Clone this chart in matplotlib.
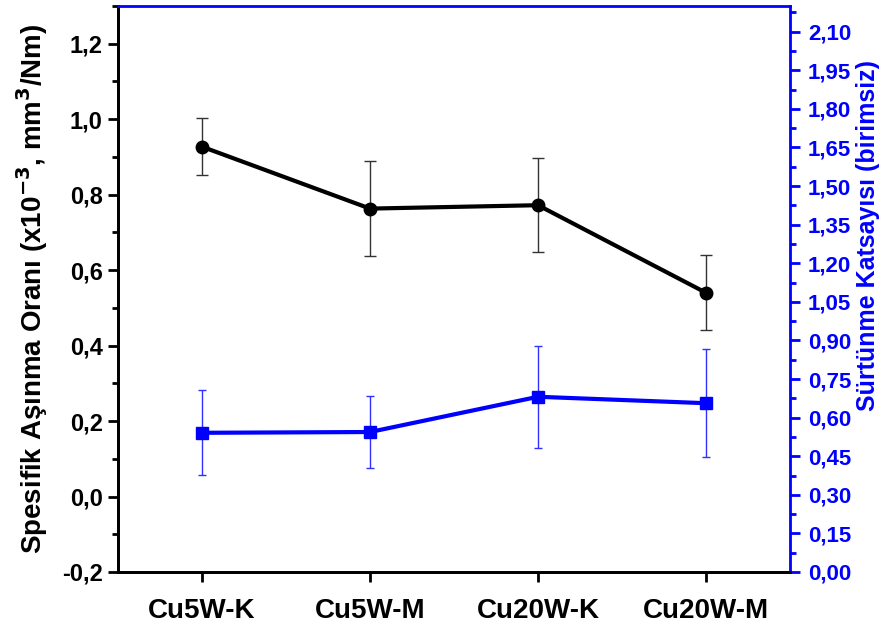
import numpy as np
import matplotlib
matplotlib.use('Agg')
from matplotlib import pyplot as plt
from matplotlib.ticker import MultipleLocator, FuncFormatter

plt.rcParams['font.family'] = ['Liberation Sans', 'DejaVu Sans']
plt.rcParams['font.weight'] = 'bold'
plt.rcParams['mathtext.default'] = 'bf'

samples = ['Cu5W-K', 'Cu5W-M', 'Cu20W-K', 'Cu20W-M']
wear = [0.927, 0.763, 0.772, 0.540]
wear_err = [0.076, 0.126, 0.124, 0.100]
friction = [0.541, 0.544, 0.681, 0.656]
friction_err = [0.165, 0.140, 0.198, 0.210]

x = np.arange(len(samples))
comma = lambda fmt: FuncFormatter(lambda v, p: (fmt % v).replace('.', ','))

fig = plt.figure(figsize=(8.9, 6.28), dpi=100)
ax = fig.add_axes([0.1326, 0.0892, 0.755, 0.9013])
ax2 = ax.twinx()

ax.errorbar(x, wear, yerr=wear_err, color='black', lw=3, marker='o', ms=9,
            ecolor='#333333', elinewidth=1, capsize=4.5, capthick=1, zorder=3)
ax2.errorbar(x, friction, yerr=friction_err, color='#0000ff', lw=3, marker='s', ms=8,
             ecolor='#3030ff', elinewidth=1, capsize=3, capthick=1, zorder=3)

ax.set_xlim(-0.5, 3.5)
ax.set_ylim(-0.2, 1.3)
ax2.set_ylim(0, 2.2)

ax.set_xticks(x)
ax.set_xticklabels(samples)
ax.yaxis.set_major_locator(MultipleLocator(0.2))
ax.yaxis.set_minor_locator(MultipleLocator(0.1))
ax.yaxis.set_major_formatter(comma('%.1f'))
ax2.yaxis.set_major_locator(MultipleLocator(0.15))
ax2.yaxis.set_minor_locator(MultipleLocator(0.075))
ax2.yaxis.set_major_formatter(comma('%.2f'))

ax.tick_params(axis='both', which='major', direction='out', length=7, width=2,
               labelsize=17, pad=4)
ax.tick_params(axis='y', which='minor', direction='out', length=4, width=2)
ax.tick_params(axis='x', labelsize=20, pad=12)
ax2.tick_params(axis='y', which='major', direction='out', length=7, width=2,
                colors='#0000ff', labelsize=16, pad=6)
ax2.tick_params(axis='y', which='minor', direction='out', length=4, width=2,
                colors='#0000ff')
for lab in ax.get_yticklabels() + ax2.get_yticklabels() + ax.get_xticklabels():
    lab.set_fontweight('bold')

for s in ['left', 'bottom']:
    ax.spines[s].set_linewidth(2)
    ax2.spines[s].set_linewidth(2)
ax2.spines['right'].set_color('#0000ff')
ax2.spines['right'].set_linewidth(2)
ax2.spines['top'].set_color('#0000ff')
ax2.spines['top'].set_linewidth(2)
ax.spines['top'].set_visible(False)
ax.spines['right'].set_visible(False)

ax.set_ylabel('Spesifik Aşınma Oranı (x10$^{-3}$, mm$^{3}$/Nm)', fontsize=20,
              fontweight='bold')
ax.yaxis.set_label_coords(-0.101, 0.5)
ax2.set_ylabel('Sürtünme Katsayısı (birimsiz)', fontsize=18, fontweight='bold',
               color='#0000ff', rotation=90)
ax2.yaxis.set_label_coords(1.099, 0.595)

fig.savefig('out.png', dpi=100)
